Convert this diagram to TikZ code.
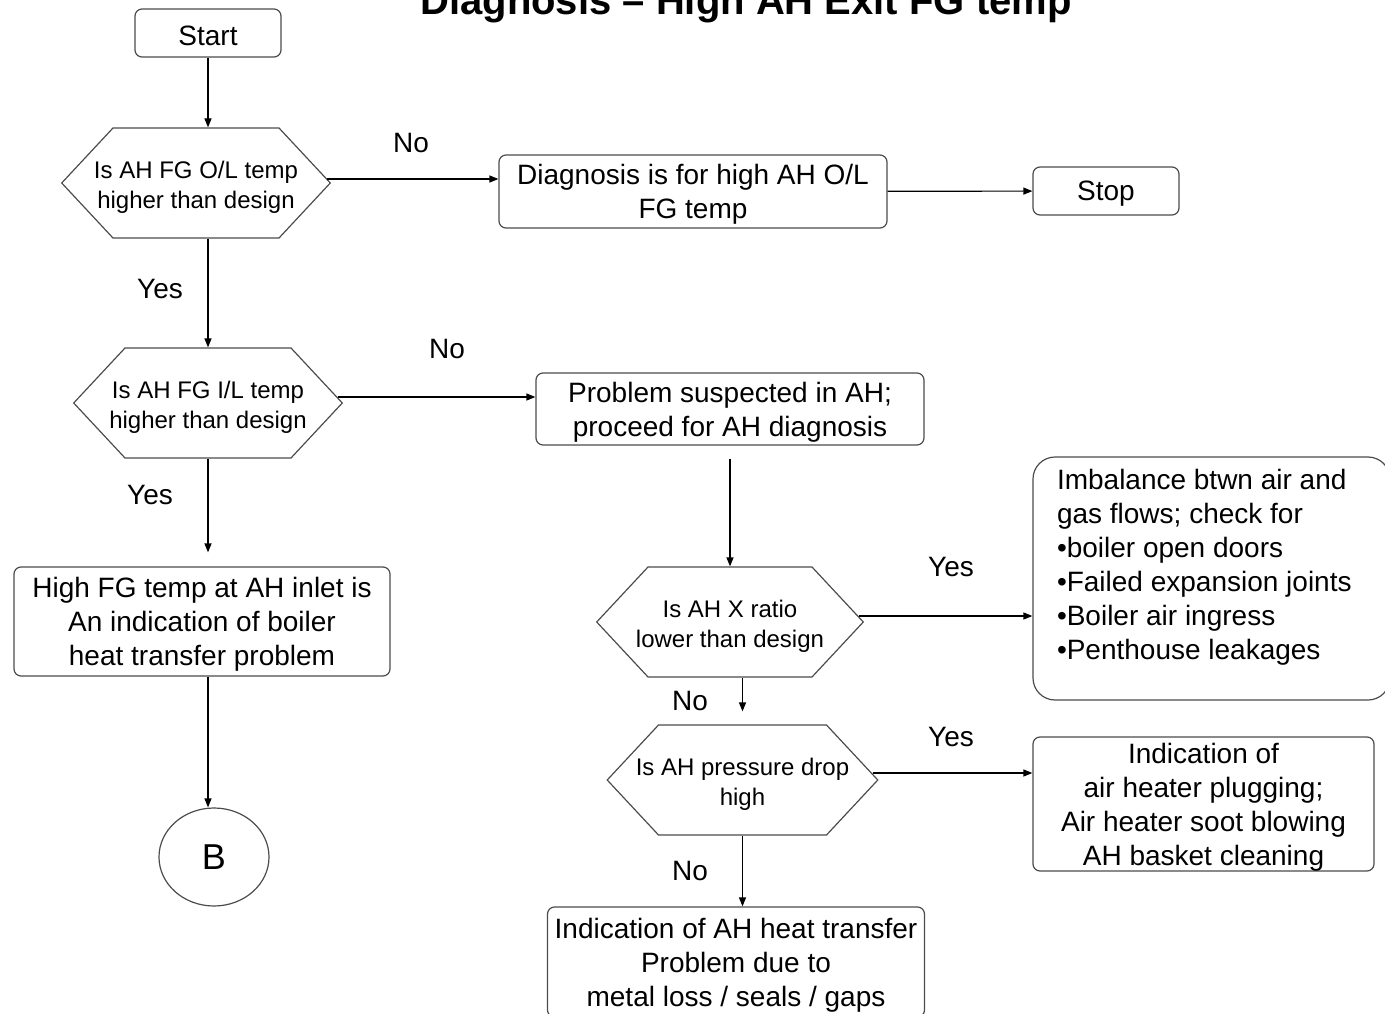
\documentclass[tikz,border=0pt]{standalone}
\usepackage{fontspec}
\setmainfont{Liberation Sans}
\usetikzlibrary{shapes.symbols,shapes.geometric,arrows.meta}
\newcommand{\hexlines}[2]{\makebox[#1]{\begin{tabular}{@{}c@{}}#2\end{tabular}}}
\tikzset{
  stepbox/.style={draw=black!70, line width=1.2pt, rounded corners=7pt, align=center,
    inner sep=0pt, text depth=0pt, font=\fontsize{28}{34}\selectfont},
  query/.style={signal, signal to=east and west, signal pointer angle=94, draw=black!70,
    line width=1.2pt, inner sep=0pt, minimum height=110, text height=46pt,
    font=\fontsize{24}{30}\selectfont},
  flow/.style={-{Triangle[length=9pt,width=7pt]}, line width=1.2pt},
  answer/.style={font=\fontsize{28}{34}\selectfont}
}
\begin{document}
\begin{tikzpicture}[x=1pt, y=-1pt]
\useasboundingbox (0,0) rectangle (1385,1014);
\node[anchor=base, font=\fontsize{40}{48}\selectfont\bfseries] (title) at (746,15) {Diagnosis -- High AH Exit FG temp};
% boxes
\node[stepbox, text height=26pt, minimum width=146, minimum height=48] (start) at (208,33) {Start};
\node[query] (q1) at (196,183) {\hexlines{166pt}{Is AH FG O/L temp\\higher than design}};
\node[stepbox, minimum width=388, minimum height=73] (diag) at (693,191.5) {Diagnosis is for high AH O/L\\FG temp};
\node[stepbox, minimum width=146, minimum height=48] (stop) at (1106,191) {Stop};
\node[query] (q2) at (208,403) {\hexlines{166pt}{Is AH FG I/L temp\\higher than design}};
\node[stepbox, minimum width=388, minimum height=72] (ahprob) at (730,409) {Problem suspected in AH;\\proceed for AH diagnosis};
\node[stepbox, minimum width=376, minimum height=109] (boiler) at (202,621.5) {High FG temp at AH inlet is\\An indication of boiler\\heat transfer problem};
\node[ellipse, draw=black!70, line width=1.2pt, minimum width=110, minimum height=98, inner sep=0pt, font=\fontsize{36}{40}\selectfont] (B) at (214,857) {B};
\node[query] (q3) at (730,622) {\hexlines{164pt}{Is AH X ratio\\lower than design}};
\node[draw=black!70, line width=1.2pt, rounded corners=22pt, inner sep=0pt, inner xsep=24pt,
  minimum width=357, font=\fontsize{28}{34}\selectfont] (imbal) at (1211.5,578.5)
  {\begin{minipage}[c][243pt][t]{309pt}\raggedright\vspace*{12pt}%
   Imbalance btwn air and\\gas flows; check for\\\textbullet boiler open doors\\\textbullet Failed expansion joints\\\textbullet Boiler air ingress\\\textbullet Penthouse leakages\end{minipage}};
\node[query] (q4) at (742.5,780) {\hexlines{168pt}{Is AH pressure drop\\high}};
\node[stepbox, minimum width=341, minimum height=134] (plug) at (1203.5,804) {Indication of\\air heater plugging;\\Air heater soot blowing\\AH basket cleaning};
\node[stepbox, minimum width=377, minimum height=110] (metal) at (736,962) {Indication of AH heat transfer\\Problem due to\\metal loss / seals / gaps};
% answers
\node[answer] (no1) at (411,143) {No};
\node[answer] (yes1) at (160,289) {Yes};
\node[answer] (no2) at (447,349) {No};
\node[answer] (yes2) at (150,495) {Yes};
\node[answer] (yes3) at (951,567) {Yes};
\node[answer] (no3) at (690,701) {No};
\node[answer] (yes4) at (951,737) {Yes};
\node[answer] (no4) at (690,871) {No};
% connectors
\draw[flow] (start) -- (start |- q1.north);
\draw[flow] ([xshift=-4pt, yshift=4pt]q1.east) -- ([yshift=4pt]q1.east -| diag.west);
\draw[flow] (diag) -- (stop);
\draw[flow] (q1.south -| q2.north) -- (q2.north);
\draw[flow] ([xshift=-5pt, yshift=6pt]q2.east) -- ([yshift=6pt]q2.east -| ahprob.west);
\draw[flow, shorten >=14pt] (q2.south) -- (q2.south |- boiler.north);
\draw[flow] (q2.south |- boiler.south) -- (q2.south |- B.north);
\draw[flow, shorten <=13pt] (ahprob.south) -- (q3.north);
\draw[flow] ([xshift=-5pt, yshift=6pt]q3.east) -- ([yshift=6pt]q3.east -| imbal.west);
\draw[flow, shorten >=13pt] (q3.south -| q4.north) -- (q4.north);
\draw[flow] ([xshift=-6pt, yshift=7pt]q4.east) -- ([yshift=7pt]q4.east -| plug.west);
\draw[flow] (q4.south) -- (q4.south |- metal.north);
\end{tikzpicture}
\end{document}
